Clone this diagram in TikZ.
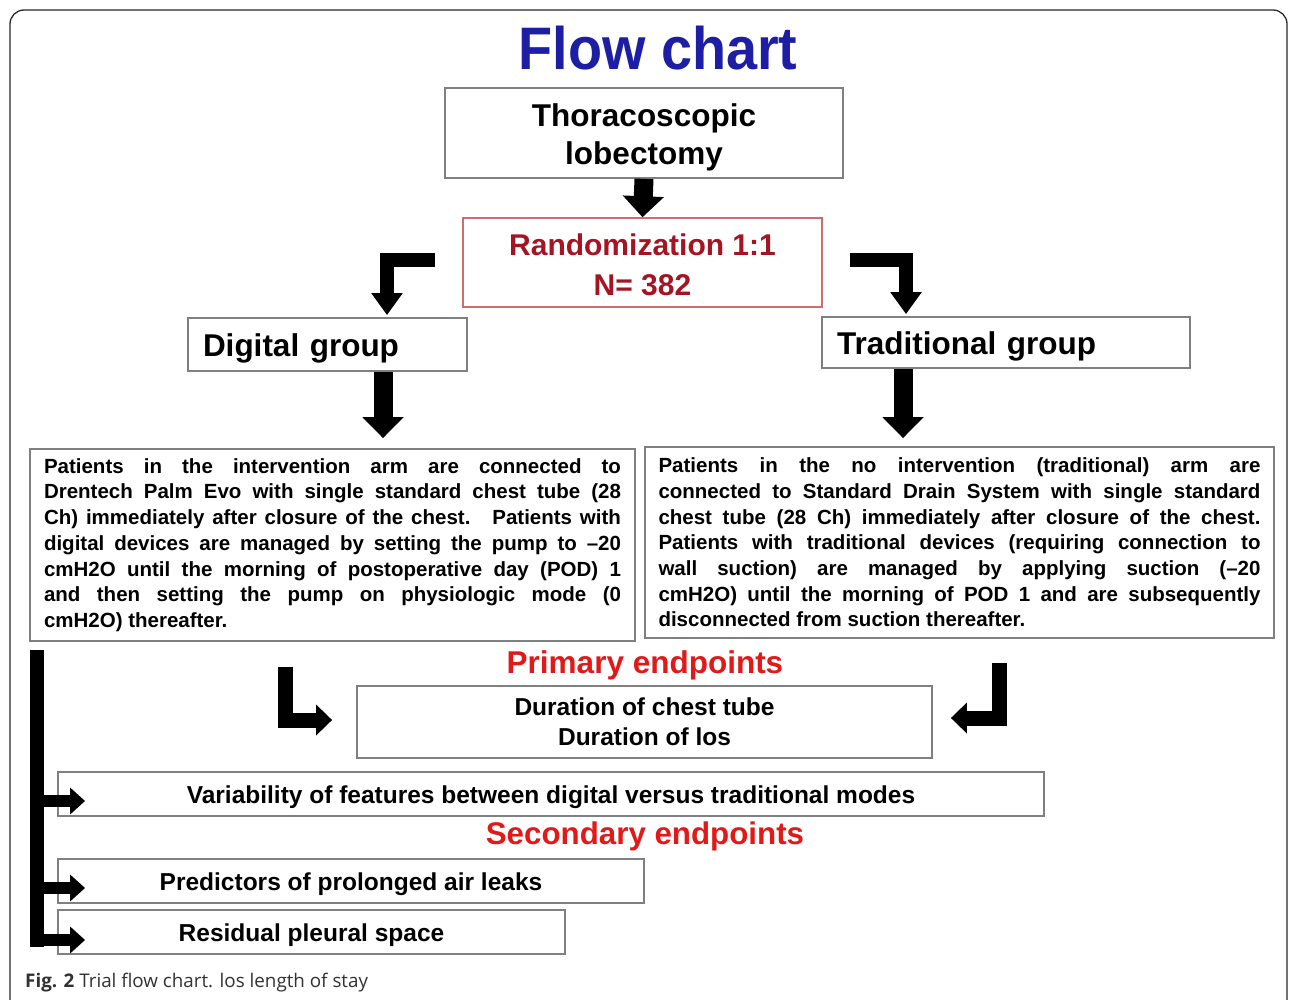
\documentclass[tikz,border=0pt]{standalone}
\usepackage{fontspec}
\setmainfont{Liberation Sans}
\newfontfamily\capfont{Open Sans}
\usetikzlibrary{arrows.meta}
\definecolor{titleblue}{RGB}{30,30,165}
\definecolor{randred}{RGB}{165,20,35}
\definecolor{randborder}{RGB}{205,110,110}
\definecolor{epred}{RGB}{225,25,25}
\definecolor{boxgray}{RGB}{128,128,128}
\definecolor{capgray}{RGB}{50,50,50}
\definecolor{framegray}{RGB}{40,40,40}
\tikzset{
  gbox/.style={draw=boxgray, line width=1.8pt, inner sep=0pt, fill=white},
  bodytext/.style={gbox, align=justify, font=\fontsize{20.5}{25.7}\selectfont\bfseries},
  headtext/.style={font=\fontsize{31.5}{38}\selectfont\bfseries},
  endtext/.style={font=\fontsize{24.5}{30}\selectfont\bfseries},
  oneline/.style={text height=23.5pt},
  fatA/.style={draw=black, line width=19pt, -{Triangle[length=21pt,width=40pt]}},
  elbowA/.style={draw=black, line width=14pt, line join=miter, -{Triangle[length=22pt,width=30pt]}},
  lA/.style={draw=black, line width=15pt, line join=miter, -{Triangle[length=16pt,width=30pt]}},
  brA/.style={draw=black, line width=12pt, -{Triangle[length=15pt,width=26pt]}},
}
\begin{document}
\begin{tikzpicture}[x=1pt,y=-1pt]
\useasboundingbox (0,0) rectangle (1290,1000);
\clip (0,0) rectangle (1290,1000);
\fill[white] (0,0) rectangle (1290,1000);
\draw[framegray, line width=1.3pt, rounded corners=14pt] (10,10) rectangle (1287,1030);

% title
\node[text=titleblue, font=\fontsize{60}{60}\selectfont\bfseries, inner sep=0pt] (title) at (658,48) {\scalebox{0.93}[1]{Flow chart}};

% boxes
\node[gbox, headtext, minimum width=398pt, minimum height=90pt, align=center, text height=69pt] (thor) at (644,133) {Thoracoscopic\\lobectomy};
\node[draw=randborder, line width=1.5pt, inner sep=0pt, minimum width=359pt, minimum height=89pt, align=center, text=randred, font=\fontsize{30}{40}\selectfont\bfseries, text height=66pt] (rand) at (642.5,262.5) {Randomization 1:1\\N= 382};
\node[gbox, headtext, minimum height=53pt, text width=249pt, inner xsep=15pt, align=left, text height=31pt] (dig) at (327.5,344.5) {Digital group};
\node[gbox, headtext, minimum height=51pt, text width=338pt, inner xsep=15pt, align=left, text height=31pt] (trad) at (1006,342.5) {Traditional group};

\node[bodytext, text width=577pt, inner xsep=14pt, minimum height=192pt] (leftbox) at (332.5,545) {Patients in the intervention arm are connected to\linebreak Drentech Palm Evo with single standard chest tube (28\linebreak Ch) immediately after closure of the chest.~ Patients with\linebreak digital devices are managed by setting the pump to –20\linebreak cmH2O until the morning of postoperative day (POD) 1\linebreak and then setting the pump on physiologic mode (0\linebreak cmH2O) thereafter.};
\node[bodytext, text width=602pt, inner xsep=13.5pt, minimum height=191pt] (rightbox) at (959.5,542.5) {Patients in the no intervention (traditional) arm are\linebreak connected to Standard Drain System with single standard\linebreak chest tube (28 Ch) immediately after closure of the chest.\linebreak Patients with traditional devices (requiring connection to\linebreak wall suction) are managed by applying suction (–20\linebreak cmH2O) until the morning of POD 1 and are subsequently\linebreak disconnected from suction thereafter.};

\node[text=epred, font=\fontsize{31.5}{32}\selectfont\bfseries, inner sep=0pt] (plabel) at (645,665) {Primary endpoints};
\node[gbox, endtext, minimum width=575pt, minimum height=72pt, align=center] (prim) at (644.5,722) {Duration of chest tube\\Duration of los};
\node[gbox, endtext, oneline, minimum width=986pt, minimum height=44pt] (var) at (551,794) {Variability of features between digital versus traditional modes};
\node[text=epred, font=\fontsize{31.3}{32}\selectfont\bfseries, inner sep=0pt] (slabel) at (645,836) {Secondary endpoints};
\node[gbox, endtext, oneline, minimum width=586pt, minimum height=44pt] (pred) at (351,881) {Predictors of prolonged air leaks};
\node[gbox, endtext, oneline, minimum width=507pt, minimum height=44pt] (resid) at (311.5,932) {Residual pleural space};

\node[anchor=west, inner sep=0pt, text=capgray, font=\capfont\fontsize{18.8}{22}\selectfont] (cap) at (25,983) {\textbf{Fig. 2} Trial flow chart. los length of stay};

% arrows
\draw[fatA] (thor.south) -- (rand.north);

\coordinate (rlstart) at (435,260);
\coordinate (rlcol) at (387,0);
\coordinate (rltip) at ([yshift=2pt]rlcol |- dig.north);
\draw[elbowA] (rlstart) -| (rltip);

\coordinate (rrstart) at (850,260);
\coordinate (rrcol) at (906,0);
\coordinate (rrtip) at ([yshift=2pt]rrcol |- trad.north);
\draw[elbowA] (rrstart) -| (rrtip);

\coordinate (dcol) at (383,0);
\coordinate (dtip) at ([yshift=10pt]dcol |- leftbox.north);
\draw[fatA] (dcol |- dig.south) -- (dtip);

\coordinate (tcol) at (903,0);
\coordinate (ttip) at ([yshift=8pt]tcol |- rightbox.north);
\draw[fatA] (tcol |- trad.south) -- (ttip);

\coordinate (plstart) at (285,667);
\coordinate (pltip) at ([xshift=-24pt,yshift=2pt]prim.west);
\draw[lA] (plstart) |- (pltip);

\coordinate (prstart) at (999,663);
\coordinate (prtip) at ([xshift=18pt,yshift=4pt]prim.east);
\draw[lA] (prstart) |- (prtip);

\coordinate (btop) at (37,650);
\coordinate (bbot) at (37,947);
\draw[line width=14pt] (btop) -- (bbot);
\coordinate (vtip) at ([xshift=28pt,yshift=-7pt]var.west);
\coordinate (ptip) at ([xshift=28pt,yshift=-7pt]pred.west);
\coordinate (qtip) at ([xshift=28pt,yshift=-8pt]resid.west);
\draw[brA] (btop |- vtip) -- (vtip);
\draw[brA] (btop |- ptip) -- (ptip);
\draw[brA] (btop |- qtip) -- (qtip);
\end{tikzpicture}
\end{document}
